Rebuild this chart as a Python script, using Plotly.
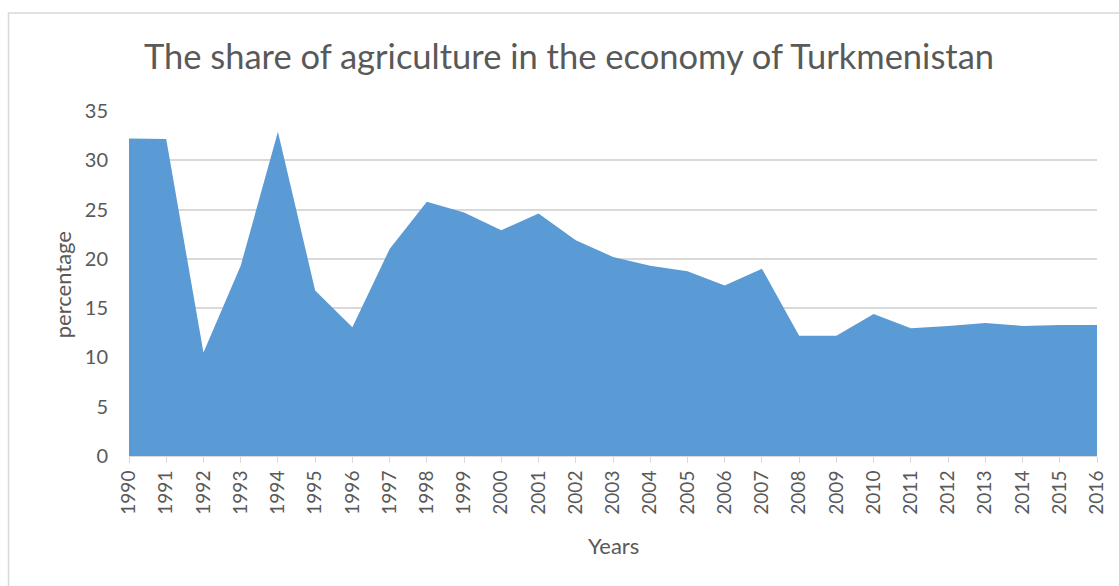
import plotly.graph_objects as go

years = list(range(1990, 2017))
share = [32.2, 32.15, 10.5, 19.3, 32.9, 16.8, 13.05, 21.0, 25.8, 24.7,
         22.9, 24.6, 21.9, 20.2, 19.3, 18.75, 17.3, 19.0, 12.2, 12.2,
         14.4, 12.95, 13.2, 13.5, 13.2, 13.3, 13.3]
title_text = "The share of agriculture in the economy of Turkmenistan"
y_ticks = [0, 5, 10, 15, 20, 25, 30, 35]

FONT = "Lato, 'Open Sans', sans-serif"
GRAY = "#595959"

fig = go.Figure()
fig.add_trace(go.Scatter(
    x=years, y=share, mode="lines", fill="tozeroy",
    line=dict(width=0, color="#5B9BD5"), fillcolor="#5B9BD5",
    showlegend=False, hoverinfo="x+y"))

W, H = 1119, 586
L, R, T, B = 129, 18, 111, 130
pw, ph = W - L - R, H - T - B

def px(x):
    return (x - L) / pw

def py(y):
    return (H - B - y) / ph

fig.update_layout(
    width=W, height=H,
    margin=dict(l=L, r=R, t=T, b=B),
    paper_bgcolor="white", plot_bgcolor="white",
    font=dict(family=FONT, color=GRAY, size=19),
    title=dict(text=title_text, x=569 / W, xanchor="center",
               y=1 - 57 / H, yanchor="middle",
               font=dict(size=34.5, color=GRAY, family=FONT)),
    xaxis=dict(range=[1990, 2016], tickmode="array", tickvals=years,
               ticktext=[str(y) for y in years], tickangle=-90,
               showgrid=False, zeroline=False, showline=True,
               linecolor="#D9D9D9", linewidth=1,
               ticks="outside", ticklen=6, tickcolor="#D9D9D9",
               tickfont=dict(size=19, color=GRAY)),
    yaxis=dict(range=[0, 35], tickvals=y_ticks, showgrid=True,
               gridcolor="#D9D9D9", gridwidth=1.5, zeroline=False,
               showline=False, ticks="", ticklabelstandoff=20,
               tickfont=dict(size=20, color=GRAY)),
    annotations=[
        dict(text="percentage", xref="paper", yref="paper",
             x=px(62), y=py(285), textangle=-90, showarrow=False,
             xanchor="center", yanchor="middle",
             font=dict(size=22, color=GRAY)),
        dict(text="Years", xref="paper", yref="paper",
             x=px(616), y=py(545), showarrow=False,
             xanchor="center", yanchor="middle",
             font=dict(size=22, color=GRAY)),
    ],
    shapes=[dict(type="rect", xref="paper", yref="paper",
                 x0=px(8), x1=px(1130), y0=py(600), y1=py(13),
                 line=dict(color="#D9D9D9", width=1.5), layer="below")],
)

fig.write_html("out.html")
